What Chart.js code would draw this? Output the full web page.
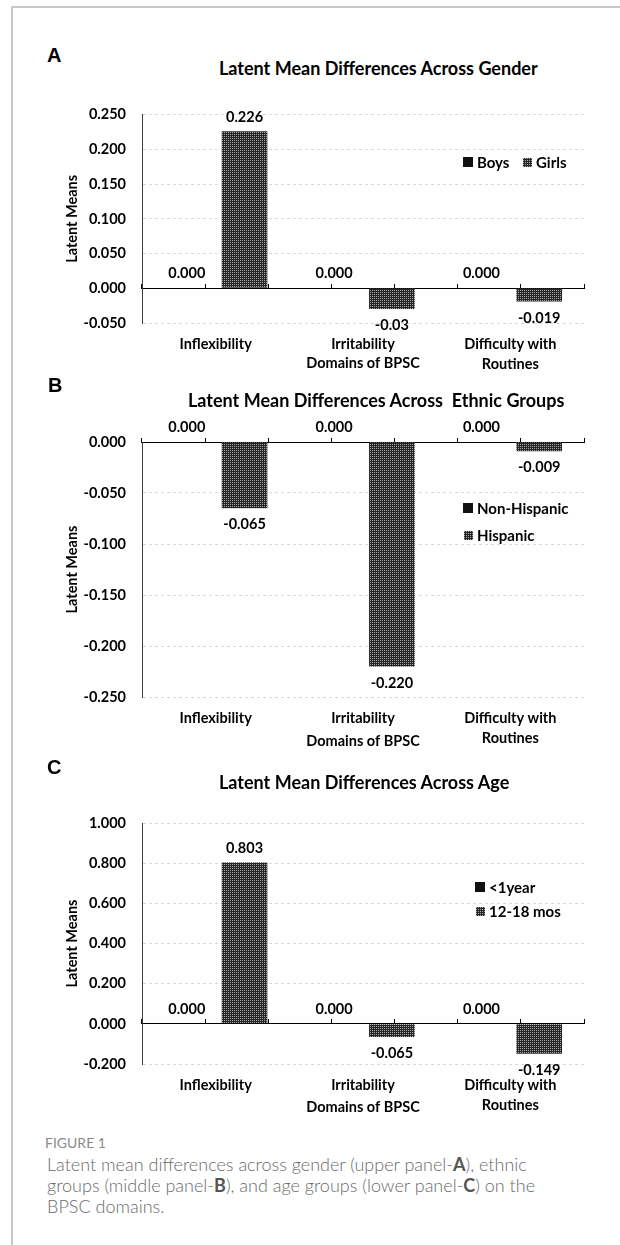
<!DOCTYPE html>
<html>
<head>
<meta charset="utf-8">
<script src="https://cdn.jsdelivr.net/npm/chart.js@4.4.1/dist/chart.umd.min.js"></script>
<style>
  html, body { margin:0; padding:0; background:#fff; }
  body { width:620px; height:1245px; position:relative; overflow:hidden; font-family:Lato, "Open Sans", sans-serif; }
  .frame { position:absolute; left:11px; top:6px; right:-5px; bottom:-5px; border-top:2px solid #c8c8c8; border-left:2px solid #c8c8c8; }
  canvas { position:absolute; left:0; }
  .t { position:absolute; white-space:nowrap; color:#000; z-index:5; }
  .letter { font-family:"Liberation Sans", Arial, sans-serif; font-weight:bold; font-size:20px; line-height:22px; }
  .ptitle { font-weight:bold; font-size:18px; line-height:22px; }
  .leg { font-weight:bold; font-size:15px; line-height:18px; }
  .sw { position:absolute; z-index:5; }
  .cap-h { position:absolute; left:45px; top:1134px; font-size:14px; line-height:18px; color:#8a8a8a; }
  .cap { position:absolute; left:47px; top:1154px; width:505px; font-size:18px; line-height:21px; color:#6a6a6a; font-weight:300; }
  .cap b { color:#555; font-weight:bold; }
</style>
</head>
<body>
<div class="frame"></div>
<canvas id="cA" width="620" height="300" style="top:90px"></canvas>
<canvas id="cB" width="620" height="374" style="top:390px"></canvas>
<canvas id="cC" width="620" height="367" style="top:764px"></canvas>

<div class="t letter" style="left:47px;top:44px">A</div>
<div class="t ptitle" id="tA" style="left:219px;top:57px"></div>
<div class="t letter" style="left:48px;top:374px">B</div>
<div class="t ptitle" id="tB" style="left:188px;top:389px"></div>
<div class="t letter" style="left:47px;top:756px">C</div>
<div class="t ptitle" id="tC" style="left:219px;top:771px"></div>

<div id="legends"></div>

<div class="cap-h">FIGURE 1</div>
<div class="cap">Latent mean differences across gender (upper panel-<b>A</b>), ethnic groups (middle panel-<b>B</b>), and age groups (lower panel-<b>C</b>) on the BPSC domains.</div>

<script>
// ---------- data ----------
const categories = ['Inflexibility', 'Irritability', ['Difficulty with', 'Routines']];
const xAxisTitle = 'Domains of BPSC';
const yAxisTitle = 'Latent Means';

const titleA = 'Latent Mean Differences Across Gender';
const seriesA = ['Boys', 'Girls'];
const boysValues = [0.000, 0.000, 0.000];
const girlsValues = [0.226, -0.030, -0.019];
const boysText = ['0.000', '0.000', '0.000'];
const girlsText = ['0.226', '-0.03', '-0.019'];
const yTicksA = [-0.05, 0.00, 0.05, 0.10, 0.15, 0.20, 0.25];

const titleB = 'Latent Mean Differences Across  Ethnic Groups';
const seriesB = ['Non-Hispanic', 'Hispanic'];
const nonHispanicValues = [0.000, 0.000, 0.000];
const hispanicValues = [-0.065, -0.220, -0.009];
const nonHispanicText = ['0.000', '0.000', '0.000'];
const hispanicText = ['-0.065', '-0.220', '-0.009'];
const yTicksB = [-0.25, -0.20, -0.15, -0.10, -0.05, 0.00];

const titleC = 'Latent Mean Differences Across Age';
const seriesC = ['<1year', '12-18 mos'];
const under1Values = [0.000, 0.000, 0.000];
const mos1218Values = [0.803, -0.065, -0.149];
const under1Text = ['0.000', '0.000', '0.000'];
const mos1218Text = ['0.803', '-0.065', '-0.149'];
const yTicksC = [-0.2, 0.0, 0.2, 0.4, 0.6, 0.8, 1.0];

// ---------- styles ----------
const FONT = 'Lato, "Open Sans", sans-serif';
function makeTile() {
  const c = document.createElement('canvas');
  c.width = 2; c.height = 2;
  const g = c.getContext('2d');
  g.fillStyle = '#262626'; g.fillRect(0, 0, 2, 2);
  g.fillStyle = '#a6a6a6'; g.fillRect(0, 0, 1, 1);
  return c;
}
const tile = makeTile();
const pattern = document.createElement('canvas').getContext('2d').createPattern(tile, 'repeat');
const solidColor = '#111111';

const valueLabels = {
  id: 'valueLabels',
  afterDatasetsDraw(chart) {
    const ctx = chart.ctx;
    ctx.save();
    ctx.font = 'bold 14.5px ' + FONT;
    ctx.fillStyle = '#000';
    ctx.textAlign = 'center';
    ctx.textBaseline = 'middle';
    chart.data.datasets.forEach((ds, di) => {
      const meta = chart.getDatasetMeta(di);
      meta.data.forEach((bar, i) => {
        const v = ds.data[i];
        const y = v >= 0 ? bar.y - 14.5 : bar.y + 16.5;
        ctx.fillText(ds.valueText[i], bar.x, y);
      });
    });
    ctx.restore();
  }
};

function buildPanel(id, names, values, texts, yTicks, padTop, xTitlePad) {
  const steps = [];
  for (let i = 0; i <= categories.length * 2; i++) steps.push(i / 2);
  const tickFont = { family: FONT, weight: 'bold', size: 14.5, lineHeight: 1.35 };
  new Chart(document.getElementById(id), {
    type: 'bar',
    data: {
      labels: categories,
      datasets: names.map((name, k) => ({
        label: name,
        data: values[k],
        valueText: texts[k],
        backgroundColor: k === 0 ? solidColor : pattern,
        borderWidth: 0,
        xAxisID: 'x',
        yAxisID: 'y',
        categoryPercentage: 0.784,
        barPercentage: 0.79
      }))
    },
    options: {
      responsive: false,
      animation: false,
      devicePixelRatio: 1,
      layout: { padding: { top: padTop, left: 56, right: 36, bottom: 0 } },
      plugins: { legend: { display: false }, title: { display: false }, tooltip: { enabled: false } },
      scales: {
        x: {
          type: 'category', position: 'bottom', offset: true,
          grid: { display: false, drawTicks: false }, border: { display: false },
          ticks: { font: tickFont, color: '#000', padding: 12, maxRotation: 0, autoSkip: false },
          title: { display: true, text: xAxisTitle, color: '#000', font: tickFont, padding: { top: 0, bottom: xTitlePad } },
          afterFit: s => { s.height = 67; }
        },
        xz: {
          type: 'linear', position: { y: 0 }, min: 0, max: categories.length,
          afterBuildTicks: s => { s.ticks = steps.map(v => ({ value: v })); },
          ticks: { display: false },
          grid: { drawOnChartArea: false, drawTicks: true, tickLength: -5, color: '#000', tickColor: '#000' },
          border: { display: true, color: '#000', width: 1 }
        },
        y: {
          type: 'linear', min: yTicks[0], max: yTicks[yTicks.length - 1],
          afterBuildTicks: s => { s.ticks = yTicks.map(v => ({ value: v })); },
          ticks: { callback: v => Number(v).toFixed(3), font: { family: FONT, weight: 'bold', size: 14.5 }, color: '#000', padding: 16 },
          grid: { color: '#d9d9d9', drawTicks: false },
          border: { display: true, color: '#404040', width: 1, dash: [3, 3] },
          title: { display: true, text: yAxisTitle, color: '#000', font: { family: FONT, weight: 'bold', size: 14.5 }, padding: { top: 8, bottom: 0 } },
          afterFit: s => { s.width = 86; }
        }
      }
    },
    plugins: [valueLabels]
  });
}

buildPanel('cA', seriesA, [boysValues, girlsValues], [boysText, girlsText], yTicksA, 11, 17);
buildPanel('cB', seriesB, [nonHispanicValues, hispanicValues], [nonHispanicText, hispanicText], yTicksB, 52, 13);
buildPanel('cC', seriesC, [under1Values, mos1218Values], [under1Text, mos1218Text], yTicksC, 59, 14);

document.getElementById('tA').textContent = titleA;
document.getElementById('tB').textContent = titleB.replace('  ', '\u00a0 ');
document.getElementById('tC').textContent = titleC;

// ---------- legends (HTML) ----------
const tileURL = tile.toDataURL();
const legendSpecs = [
  { names: seriesA, items: [[463, 162, 477], [523, 162, 536]] },
  { names: seriesB, items: [[463, 508, 477], [464, 535, 477]] },
  { names: seriesC, items: [[475, 887, 489], [476, 911, 489]] }
];
const holder = document.getElementById('legends');
legendSpecs.forEach(spec => {
  spec.names.forEach((name, k) => {
    const [sx, cy, tx] = spec.items[k];
    const sw = document.createElement('div');
    sw.className = 'sw';
    const size = k === 0 ? 10 : 9;
    sw.style.cssText = `left:${sx}px;top:${cy - size / 2}px;width:${size}px;height:${size}px;` +
      (k === 0 ? `background:${solidColor};` : `background-image:url(${tileURL});`);
    holder.appendChild(sw);
    const tx_ = document.createElement('div');
    tx_.className = 't leg';
    tx_.style.left = tx + 'px';
    tx_.style.top = (cy - 9) + 'px';
    tx_.textContent = name;
    holder.appendChild(tx_);
  });
});
</script>
</body>
</html>
